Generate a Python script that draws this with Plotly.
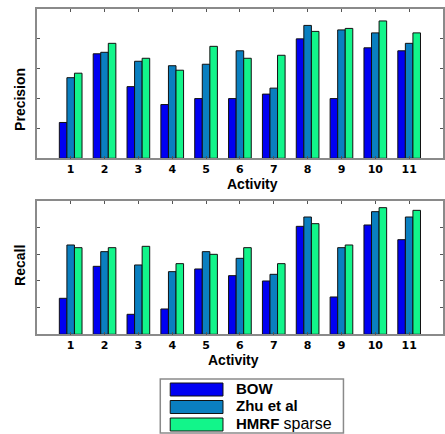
import plotly.graph_objects as go

activities = [str(i) for i in range(1, 12)]
series_names = ["BOW", "Zhu et al", "HMRF sparse"]
precision_bow = [0.24, 0.70, 0.48, 0.36, 0.40, 0.40, 0.43, 0.80, 0.40, 0.74, 0.72]
precision_zhu = [0.54, 0.71, 0.65, 0.62, 0.63, 0.72, 0.47, 0.89, 0.86, 0.84, 0.77]
precision_hmrf = [0.57, 0.77, 0.67, 0.59, 0.75, 0.67, 0.69, 0.85, 0.87, 0.92, 0.84]
recall_bow = [0.27, 0.51, 0.15, 0.19, 0.49, 0.44, 0.40, 0.81, 0.28, 0.82, 0.71]
recall_zhu = [0.67, 0.62, 0.52, 0.47, 0.62, 0.57, 0.45, 0.88, 0.65, 0.92, 0.88]
recall_hmrf = [0.65, 0.65, 0.66, 0.53, 0.60, 0.65, 0.53, 0.83, 0.67, 0.95, 0.93]

colors = ["#0000f2", "#0a7fc0", "#12f58a"]
W, H = 445, 434
FONT = "Liberation Sans, Arial, sans-serif"
TICKFONT = "DejaVu Sans, sans-serif"

xpos = list(range(1, 12))
fig = go.Figure()
panels = [
    ("x", "y", [precision_bow, precision_zhu, precision_hmrf]),
    ("x2", "y2", [recall_bow, recall_zhu, recall_hmrf]),
]
for xa, ya, vals in panels:
    for name, v, c in zip(series_names, vals, colors):
        fig.add_trace(go.Bar(
            x=xpos, y=v, name=name, xaxis=xa, yaxis=ya,
            marker=dict(color=c, line=dict(color="#111111", width=1)),
            showlegend=False, offsetgroup=name,
        ))

def px_x(p):
    return p / W

def px_y(p):
    return 1 - p / H

axis_common = dict(
    showline=True, linecolor="#8a8a8a", linewidth=1.5, mirror="ticks",
    ticks="inside", ticklen=3, tickcolor="#555555", showgrid=False, zeroline=False,
)
xdom = [px_x(37), 1.0]
tickfont = dict(size=11, family=TICKFONT, color="black")
fig.update_layout(
    width=W, height=H, margin=dict(l=0, r=0, t=0, b=0),
    paper_bgcolor="white", plot_bgcolor="white",
    barmode="group", bargap=0.33, bargroupgap=0.0,
    font=dict(family=FONT, color="black"),
    xaxis=dict(domain=xdom, range=[0, 12], anchor="y", tickvals=xpos, ticktext=[f"<b>{a}</b>" for a in activities],
               tickfont=tickfont, **axis_common),
    yaxis=dict(domain=[px_y(158.3), px_y(9)], range=[0, 1], anchor="x", dtick=0.2, showticklabels=False, **axis_common),
    xaxis2=dict(domain=xdom, range=[0, 12], anchor="y2", tickvals=xpos, ticktext=[f"<b>{a}</b>" for a in activities],
                tickfont=tickfont, **axis_common),
    yaxis2=dict(domain=[px_y(334.3), px_y(201)], range=[0, 1], anchor="x2", dtick=0.2, showticklabels=False, **axis_common),
)

ann = []
ann.append(dict(text="<b>Precision</b>", x=px_x(20), y=px_y(99), textangle=-90, font=dict(size=14)))
ann.append(dict(text="<b>Recall</b>", x=px_x(20), y=px_y(265), textangle=-90, font=dict(size=14)))
ann.append(dict(text="<b>Activity</b>", x=px_x(254), y=px_y(184), font=dict(size=14)))
ann.append(dict(text="<b>Activity</b>", x=px_x(235), y=px_y(360), font=dict(size=14)))

# legend box
shapes = [dict(type="rect", xref="paper", yref="paper", x0=px_x(161), x1=px_x(345), y0=px_y(433), y1=px_y(379),
               line=dict(color="#8a8a8a", width=1.5), fillcolor="white", layer="above")]
legend_labels = ["<b>BOW</b>", "<b>Zhu et al</b>", "<b>HMRF</b> <span style='font-size:16px'>sparse</span>"]
centers = [389.5, 407, 424.5]
for lab, c, cy in zip(legend_labels, colors, centers):
    shapes.append(dict(type="rect", xref="paper", yref="paper", x0=px_x(171), x1=px_x(224),
                       y0=px_y(cy + 6.5), y1=px_y(cy - 6.5), line=dict(color="#111111", width=1),
                       fillcolor=c, layer="above"))
    ann.append(dict(text=lab, x=px_x(235), y=px_y(cy - 1.5), xanchor="left", font=dict(size=15)))

for a in ann:
    a.setdefault("xref", "paper")
    a.setdefault("yref", "paper")
    a.setdefault("showarrow", False)
    a.setdefault("xanchor", "center")
    a.setdefault("yanchor", "middle")
fig.update_layout(annotations=ann, shapes=shapes)
fig.write_html("out.html")
